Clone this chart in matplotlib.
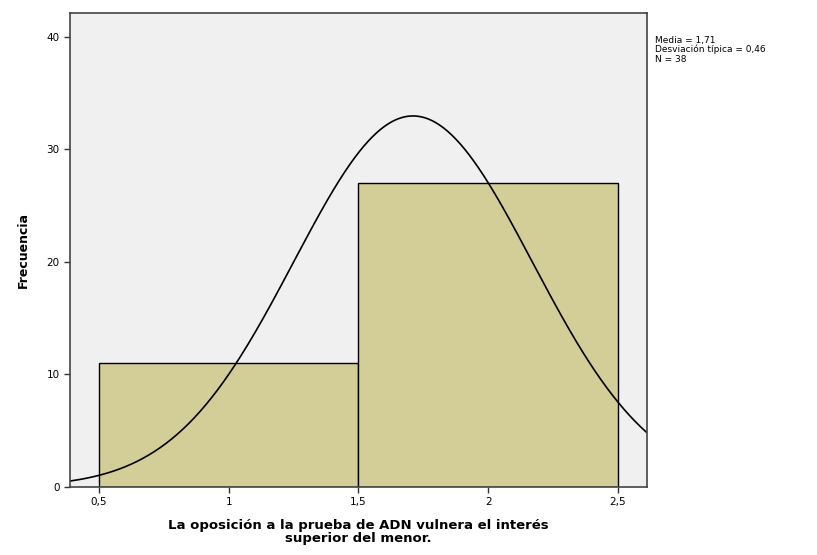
import numpy as np
import matplotlib
matplotlib.use("Agg")
import matplotlib.pyplot as plt

# Data
bin_edges = [0.5, 1.5, 2.5]
counts = [11, 27]
mean = 1.71
sd = 0.46
n = 38
xticks = [0.5, 1.0, 1.5, 2.0, 2.5]
xtick_labels = ["0,5", "1", "1,5", "2", "2,5"]
yticks = [0, 10, 20, 30, 40]
stats_text = "Media = 1,71\nDesviación típica = 0,46\nN = 38"
xlabel = "La oposición a la prueba de ADN vulnera el interés\nsuperior del menor."
ylabel = "Frecuencia"

fig = plt.figure(figsize=(8.17, 5.55), dpi=100)
ax = fig.add_axes([70/817, 1-487/555, (647-70)/817, (487-13)/555])
ax.set_facecolor("#f0f0f0")

widths = np.diff(bin_edges)
ax.bar(bin_edges[:-1], counts, width=widths, align="edge",
       color="#d3ce97", edgecolor="black", linewidth=1.0)

xmin, xmax = 0.388, 2.612
xs = np.linspace(xmin, xmax, 400)
bw = widths[0]
ys = n * bw / (sd * np.sqrt(2*np.pi)) * np.exp(-0.5*((xs-mean)/sd)**2)
ax.plot(xs, ys, color="black", linewidth=1.2)

ax.set_xlim(xmin, xmax)
ax.set_ylim(0, 42.1)
ax.set_xticks(xticks)
ax.set_xticklabels(xtick_labels)
ax.set_yticks(yticks)
ax.tick_params(axis="both", labelsize=7.5, length=4, width=1, direction="out", color="#333333")
for side in ["left", "bottom", "top", "right"]:
    ax.spines[side].set_color("#444444")
    ax.spines[side].set_linewidth(1.2)

ax.set_ylabel(ylabel, fontsize=9, fontweight="bold", labelpad=12)
ax.set_xlabel(xlabel, fontsize=9.5, fontweight="bold", labelpad=8, linespacing=1.05)

fig.text(655/817, 1-36/555, stats_text, fontsize=6.5, va="top", ha="left", linespacing=1.0)

fig.savefig("out.png", dpi=100)
